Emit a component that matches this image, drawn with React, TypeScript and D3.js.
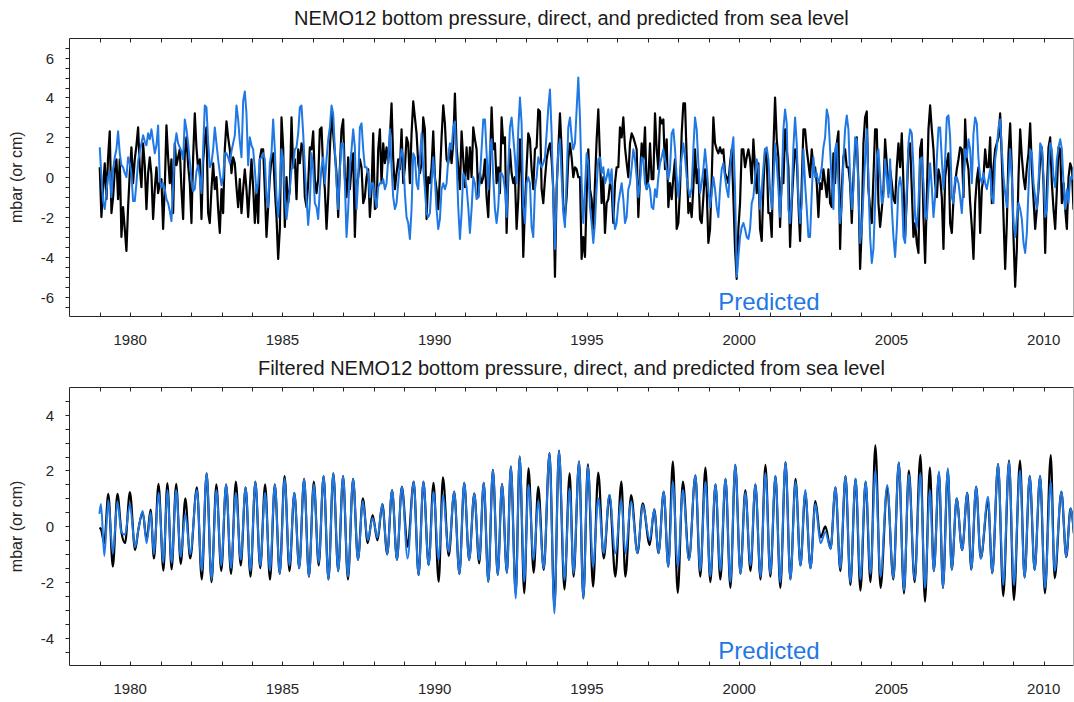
import React from "react";
import * as d3 from "d3";

// ---------- data ----------
// Unfiltered series: one value every 20 days starting at 1979.0 (mbar)
const SERIES_START = 1979.0;
const SERIES_STEP_DAYS = 20;

const directTop: number[] = [
  0.5,-2.0,-0.5,0.7,-1.1,1.0,2.3,-1.8,-1.0,0.3,
  0.9,-1.1,0.9,-3.0,-1.5,-2.6,-3.7,-1.5,0.2,1.5,
  -0.3,0.9,1.6,2.5,0.5,-0.5,1.7,0.6,-1.6,0.2,
  1.0,0.1,-2.1,-0.6,0.5,-0.8,-0.3,-0.1,-2.6,-0.5,
  2.6,1.0,-0.3,0.9,-1.8,1.7,0.6,1.0,1.4,-0.6,
  -2.1,1.2,2.0,0.6,-0.3,-2.3,1.0,3.2,1.5,0.4,
  0.9,-2.1,0.8,1.9,2.5,-1.8,-2.3,-0.6,0.7,-0.6,
  0.0,-1.6,-2.8,-0.6,-1.8,1.4,2.8,2.0,1.4,0.2,
  1.0,0.7,-0.5,-1.5,-0.1,-1.8,-0.6,0.4,-0.6,-2.0,
  -0.5,0.9,-0.5,-2.3,-0.6,
  -2.3,0.9,1.4,1.4,-0.6,-3.0,-1.5,0.0,0.9,1.2,
  -0.6,-2.0,-4.1,-2.6,3.0,1.5,-2.5,0.0,-1.3,-0.6,
  3.0,0.5,0.9,-1.1,1.4,0.7,1.7,1.4,-1.0,-1.5,
  -0.3,1.5,1.4,2.3,-0.1,-0.8,-0.1,2.4,2.5,0.4,
  -0.6,-2.6,-1.0,1.4,3.2,2.2,1.2,0.2,-2.0,0.5,
  2.4,2.9,0.0,-1.0,1.0,-0.6,0.5,1.2,-3.0,-0.3,
  0.0,0.9,0.5,-1.3,-1.0,0.0,0.4,-2.0,-0.6,2.2,
  -1.6,-1.5,1.4,2.4,-0.3,1.7,0.7,1.5,0.7,2.0,
  3.7,0.9,-0.6,0.2,0.9,0.4,2.4,-0.3,0.5,2.0,
  1.7,-0.3,2.2,3.8,3.0,2.2,0.7,0.2,
  0.7,3.0,2.4,-2.1,0.0,-0.3,0.5,2.3,0.0,-0.6,
  -1.6,0.0,2.0,3.6,2.7,0.9,0.7,1.5,0.7,1.7,
  4.2,1.5,0.5,-0.6,2.3,0.9,-0.5,1.5,-0.1,1.5,
  0.0,2.5,1.9,1.4,-1.0,0.2,-0.3,0.0,0.9,-1.0,
  -2.0,0.5,3.5,1.4,1.7,-0.3,0.5,-0.8,3.0,1.7,
  2.0,-2.8,0.0,1.4,0.2,-0.3,0.0,-2.6,-1.1,1.9,
  0.0,-4.0,-1.5,0.5,2.2,1.9,0.4,-0.6,1.4,1.5,
  3.4,3.3,-0.6,-1.3,-0.1,0.9,1.4,1.7,0.9,-0.6,
  -5.0,-0.6,1.4,3.2,1.4,-1.5,-2.0,-1.0,0.9,1.7,
  1.0,0.0,0.5,0.4,0.0,0.0,-4.1,-3.0,
  -4.0,-1.0,1.4,-0.6,-1.1,-2.6,-0.3,1.9,3.4,1.0,
  -1.3,0.0,-2.8,-1.3,-1.1,-0.3,-0.6,-2.3,-0.3,0.5,
  0.5,2.5,2.0,3.0,1.5,0.7,0.0,1.7,2.2,2.0,
  1.7,1.4,-2.0,0.0,1.7,0.9,2.5,-0.6,-0.1,1.7,
  -0.1,-0.1,3.2,1.4,0.4,3.0,2.7,2.9,0.4,1.9,
  -1.5,-0.3,-1.1,0.0,0.9,-2.6,-2.3,-0.6,2.2,3.7,
  3.7,1.0,-1.8,-1.3,-2.0,-0.5,1.4,-0.3,0.4,-2.1,
  -2.3,-1.0,0.4,-0.6,-3.3,-2.6,-0.1,3.0,1.7,1.4,
  1.2,1.5,1.2,1.4,0.2,0.0,-0.3,0.7,1.4,-1.0,
  -3.6,-5.1,-2.6,-1.3,1.4,1.4,0.5,1.0,
  1.4,0.9,-0.3,1.9,0.5,-0.8,0.7,-2.6,-3.2,-0.5,
  1.4,1.0,-1.8,-1.8,-3.0,1.4,4.0,1.9,1.0,-2.5,
  0.0,-0.3,2.4,1.4,0.5,-3.5,-1.3,0.2,1.4,1.0,
  -1.3,-3.2,-0.3,2.4,2.4,1.4,0.7,0.0,1.4,0.5,
  0.5,-0.3,-2.0,-0.3,-0.6,0.4,-0.3,-1.0,0.4,-1.3,
  -1.5,1.2,-0.3,1.7,2.3,-3.6,-0.6,1.0,1.4,0.5,
  0.5,-0.3,-2.3,0.0,1.4,2.0,-0.3,-4.6,-2.5,1.7,
  3.0,3.3,-0.6,-1.6,-2.3,0.0,2.4,2.4,-1.3,-2.5,
  -1.6,-0.6,1.9,0.7,-0.8,0.4,-0.3,-1.1,-1.3,0.5,
  1.7,0.5,2.2,-0.3,-3.0,-1.0,1.4,1.7,
  -0.6,-3.0,-2.3,-3.3,-3.8,1.4,1.9,-2.0,-4.3,-1.1,
  2.4,3.6,2.4,1.4,-0.3,-1.0,0.4,0.0,-1.0,-3.6,
  0.0,0.7,1.2,-2.3,-2.8,-1.1,-0.3,0.4,0.9,1.5,
  1.4,-1.0,2.9,0.9,0.4,-1.3,-2.5,-4.1,-1.3,-0.1,
  0.5,-2.8,-0.6,0.0,1.4,0.5,0.5,2.0,-1.3,0.5,
  1.4,1.7,2.0,3.2,0.9,-2.0,-4.6,-2.3,1.2,2.7,
  0.4,-3.0,-5.5,-3.6,0.0,2.4,1.0,0.0,-0.6,0.5,
  1.2,2.7,0.5,-1.1,-2.6,-1.6,-0.6,0.9,1.5,-0.3,
  -3.8,-0.6,1.5,2.0,-0.3,-1.6,-2.6,-0.6,1.5,1.4,
  -1.3,-0.3,-1.6,-2.6,0.0,0.7,0.4,-1.6,-1.5,
];

const predictedTop: number[] = [
  1.5,0.0,-1.2,-1.6,-0.7,0.0,0.3,-1.0,0.4,1.0,
  1.4,2.3,1.2,0.6,0.5,0.2,0.0,1.0,0.7,0.2,
  -1.2,-1.2,-0.3,0.8,1.3,1.7,2.1,1.8,1.6,2.2,
  1.9,2.4,1.8,1.2,1.6,2.6,-0.1,-0.5,-0.3,-0.6,
  -1.1,-1.3,-1.7,-2.2,-0.5,1.6,2.2,1.7,1.5,1.3,
  0.9,2.9,2.4,1.7,0.8,-0.1,-0.7,-0.6,0.3,0.6,
  0.0,-0.8,1.4,3.6,3.5,1.8,0.5,0.7,1.4,2.5,
  1.7,0.9,0.2,-0.4,0.0,1.2,1.2,1.0,0.7,1.3,
  1.7,2.1,3.6,2.9,1.8,1.0,3.8,4.3,3.2,0.6,
  2.0,1.6,1.4,0.4,-0.8,
  -0.3,0.9,1.0,1.2,0.9,-1.0,-1.5,0.7,1.2,2.9,
  1.4,-1.0,-2.0,-0.6,1.4,0.9,-1.0,-2.1,-1.3,-0.6,
  0.4,0.5,1.4,1.5,2.2,3.5,3.6,2.2,0.5,-1.1,
  -2.4,-1.3,1.2,0.4,-1.3,-1.5,-2.1,-0.6,0.5,1.0,
  -0.3,0.9,1.9,2.5,3.6,3.2,1.4,-0.3,-1.6,0.4,
  1.7,1.7,-0.3,-3.0,-1.6,0.4,1.4,2.4,1.5,-1.6,
  -0.1,2.5,2.7,1.4,0.5,0.5,0.2,-1.0,-0.3,-0.3,
  -1.0,-1.5,-0.5,-0.3,-0.3,-0.1,-0.6,-0.3,0.9,2.4,
  0.5,-1.0,-1.6,-1.3,-0.3,0.7,1.4,1.0,-0.8,-2.0,
  -2.3,-3.1,-1.6,1.2,1.0,-0.3,-0.6,0.9,
  2.2,0.5,-0.6,-1.8,-2.0,-1.8,-0.3,1.0,-0.1,-1.6,
  -2.6,-2.1,-0.6,-0.3,-0.6,-0.3,0.9,1.7,1.4,2.5,
  2.8,0.9,-1.5,-3.1,-1.8,0.2,0.0,-0.5,-1.5,-2.8,
  -1.6,0.0,-0.3,-1.1,-1.0,0.0,1.4,2.9,2.9,1.2,
  -0.6,1.4,1.9,0.0,-1.6,-2.3,-1.5,0.2,0.2,0.0,
  -0.6,-2.0,0.5,2.5,3.0,2.0,1.0,-0.3,2.4,4.0,
  2.7,-1.5,-2.3,-0.3,0.0,-0.3,-2.5,-3.0,-0.6,0.0,
  1.0,0.7,0.5,0.7,1.0,2.2,3.5,4.4,2.2,-1.1,
  -3.6,-0.6,1.4,1.9,0.0,-1.8,-2.5,0.0,2.5,3.0,
  2.0,1.4,1.7,3.4,5.0,3.0,-0.3,-2.3,
  -0.6,1.2,0.7,-1.5,-2.3,-3.3,-2.3,-0.5,0.9,1.0,
  0.2,0.5,-0.3,0.0,0.4,-0.3,0.4,-1.5,-2.6,-2.3,
  -1.3,-0.8,-0.3,-1.1,-2.3,-2.0,-0.6,-0.3,0.5,1.4,
  0.9,0.0,-1.0,-0.3,1.0,0.9,-0.3,-0.6,-0.3,-0.6,
  -1.5,-1.6,-0.6,-1.0,0.0,0.7,1.0,1.4,0.9,0.4,
  -0.1,0.4,2.2,2.4,1.4,0.0,-1.0,0.2,1.0,1.7,
  1.0,0.0,-0.6,-1.0,-0.5,1.4,3.0,2.4,0.7,-0.8,
  -0.3,0.4,1.4,0.5,-0.6,-1.5,-0.8,0.0,-0.6,-1.5,
  -2.0,-0.6,0.4,0.7,0.0,-0.6,-1.0,0.4,1.4,2.0,
  -0.6,-5.0,-4.0,-3.0,-2.5,-2.3,-2.6,-3.0,
  -3.1,-2.6,-1.3,-1.0,0.0,0.9,0.4,-1.6,-0.6,0.5,
  1.4,1.5,0.9,-0.6,-1.6,-0.3,1.7,0.7,-0.6,-2.0,
  -0.3,2.4,3.4,2.7,-1.6,-2.3,-1.0,1.5,3.0,1.7,
  -1.1,-2.3,-1.3,1.4,-0.3,-1.6,-3.0,-3.0,-0.8,1.0,
  0.0,0.2,-0.3,0.0,0.5,1.5,2.0,3.4,3.0,1.4,
  -0.3,-1.6,1.4,1.7,-0.3,-2.3,-1.5,0.9,2.4,3.1,
  2.4,0.0,-1.6,-0.6,2.0,1.9,-0.6,-3.3,-2.6,-0.8,
  0.9,2.4,-0.1,-3.0,-4.3,-3.6,-1.3,1.0,1.4,0.0,
  -1.3,-1.0,0.9,0.0,-1.0,0.9,-1.5,-3.0,-4.0,-2.6,
  -0.5,0.0,-0.6,-3.0,-3.3,-0.6,1.7,2.4,
  2.2,0.5,-2.0,-2.5,-1.3,0.9,1.0,-0.3,-1.8,-2.1,
  -0.6,0.7,-0.5,-2.0,-1.0,0.9,2.5,2.5,0.9,-0.6,
  0.9,3.0,3.1,2.0,-1.0,-1.3,0.0,0.0,-0.3,-1.0,
  -1.8,-0.3,1.4,1.0,1.9,1.4,-0.3,2.2,3.0,2.7,
  0.9,0.0,-0.3,0.2,-0.3,-0.6,-0.1,0.4,-1.0,-1.3,
  0.9,1.5,2.5,2.9,1.4,0.0,-0.8,-1.5,0.0,1.4,
  0.0,-2.3,-3.0,-2.0,-1.3,-1.6,-2.1,-3.3,-3.8,-2.8,
  -0.6,1.4,1.2,-0.3,-1.0,-1.6,-0.3,1.7,1.5,0.0,
  -2.0,-1.6,0.4,1.7,1.4,0.0,-0.5,0.9,1.5,1.9,
  1.4,-0.3,-1.6,-0.6,-1.3,0.0,-0.1,0.5,-0.3,
];

// Filtered series: successive turning points (year) with values (mbar)
const filtYears: number[] = [
  1978.99,1979.04,1979.15,1979.28,1979.43,1979.58,1979.71,1979.83,1979.99,1980.16,
  1980.27,1980.41,1980.54,1980.67,1980.78,1980.93,1981.09,1981.22,1981.36,1981.51,
  1981.66,1981.81,1981.97,1982.19,
  1982.35,1982.51,1982.67,1982.83,1982.99,1983.15,1983.31,1983.47,1983.63,1983.79,
  1983.95,1984.11,1984.27,1984.43,1984.59,1984.75,1984.91,1985.07,1985.23,1985.39,
  1985.55,1985.71,1985.87,1986.03,1986.19,1986.35,1986.51,1986.67,1986.83,1986.99,
  1987.15,1987.32,1987.48,1987.64,1987.80,1987.96,1988.12,1988.28,1988.44,1988.60,
  1988.76,
  1988.92,1989.11,1989.31,1989.47,1989.63,1989.80,1989.96,1990.13,1990.27,1990.46,
  1990.64,1990.81,1990.97,1991.13,1991.30,1991.46,1991.61,1991.76,1991.91,1992.07,
  1992.21,1992.37,1992.50,1992.66,1992.79,1992.94,1993.08,1993.25,1993.40,1993.58,
  1993.77,1993.93,1994.08,1994.26,1994.43,1994.56,1994.74,1994.88,1995.03,1995.20,
  1995.37,1995.55,1995.74,1995.93,1996.13,1996.26,1996.45,1996.66,1996.83,1997.06,
  1997.21,1997.35,1997.52,1997.67,1997.82,1997.98,1998.15,1998.35,1998.56,
  1998.72,1998.89,1999.05,1999.22,1999.38,1999.55,1999.71,1999.87,2000.04,2000.20,
  2000.37,2000.53,2000.70,2000.86,2001.02,2001.19,2001.35,2001.52,2001.68,2001.85,
  2002.01,2002.17,2002.34,2002.50,2002.67,2002.83,2003.00,2003.16,2003.32,2003.49,
  2003.65,2003.82,2003.98,2004.15,2004.31,2004.47,
  2004.64,2004.86,2005.06,2005.24,2005.41,2005.57,2005.76,2005.95,2006.10,2006.26,
  2006.39,2006.56,2006.69,2006.85,2006.98,2007.14,2007.32,2007.49,2007.62,2007.78,
  2007.93,2008.17,2008.31,2008.50,2008.67,2008.86,2009.02,2009.22,2009.37,2009.54,
  2009.70,2009.88,2010.04,2010.23,2010.36,2010.58,2010.74,2010.88,2010.99,
];
const filtPredicted: number[] = [
  0.45,0.8,-1.06,0.94,-0.97,0.9,-0.2,-0.3,0.8,-0.75,
  -0.1,0.55,-0.6,0.5,-1.0,1.2,-1.3,1.3,-1.3,1.3,
  -1.1,0.45,-1.0,1.3,
  -1.6,1.9,-1.9,1.3,-1.4,1.5,-1.5,1.2,-1.2,1.4,
  -1.6,1.6,-1.4,1.2,-1.6,1.5,-1.7,1.7,-1.4,1.2,
  -1.5,1.7,-1.8,1.5,-1.3,1.8,-1.9,1.9,-1.6,1.8,
  -1.8,1.7,-1.2,0.9,-0.5,0.3,-0.4,0.8,-1.0,1.3,
  -1.2,
  1.42,-1.15,1.6,-1.74,1.6,-1.39,1.24,-1.21,1.12,-0.91,
  1.24,-1.71,1.56,-1.21,1.18,-1.21,1.56,-1.98,2.02,-1.74,
  1.52,-1.66,2.14,-2.58,2.5,-1.98,1.48,-1.21,0.93,-1.5,
  2.62,-3.12,2.71,-1.92,1.36,-1.68,2.32,-2.58,2.14,-1.44,
  1.0,-0.96,1.12,-0.96,0.95,-0.96,0.88,-0.96,0.76,-0.49,
  0.61,-0.96,1.24,-1.44,1.6,-1.44,1.3,-1.2,1.83,
  -1.6,1.6,-1.8,1.5,-1.6,1.7,-2.0,2.2,-1.7,1.2,
  -1.4,1.5,-1.8,1.9,-1.7,1.8,-2.0,2.3,-1.9,1.6,
  -1.4,1.3,-1.5,0.8,-0.6,-0.2,-0.8,1.4,-1.5,1.8,
  -2.0,1.7,-1.9,1.6,-1.7,2.0,
  -1.8,1.48,-1.86,2.28,-2.3,1.85,-1.9,1.9,-2.2,1.3,
  -1.6,1.96,-2.2,2.08,-1.55,1.0,-0.85,1.2,-1.55,1.42,
  -1.15,1.06,-1.68,2.23,-2.1,2.3,-2.1,2.0,-1.83,1.8,
  -1.56,1.8,-2.2,1.6,-1.6,1.24,-1.1,0.64,-0.25,
];
const filtDirect: number[] = [
  -0.05,-0.1,-0.6,1.16,-1.44,1.16,-0.2,-0.6,1.23,-0.85,
  -0.1,0.5,-0.5,0.6,-1.15,1.52,-1.59,1.55,-1.54,1.52,
  -1.35,1.0,-1.15,1.4,
  -1.9,1.9,-2.0,1.5,-1.6,1.5,-1.7,1.6,-1.4,1.4,
  -1.8,1.6,-1.5,1.5,-1.9,1.5,-1.7,1.8,-1.6,1.2,
  -1.5,1.7,-1.8,1.6,-1.4,1.8,-1.9,1.9,-1.6,1.8,
  -1.9,1.7,-1.2,1.0,-0.6,0.4,-0.5,0.8,-1.0,1.3,
  -1.2,
  1.42,-0.73,1.6,-1.74,1.6,-1.39,1.56,-1.98,1.75,-1.06,
  1.24,-1.71,1.56,-1.21,1.18,-1.33,1.56,-1.98,2.02,-1.74,
  1.52,-1.66,2.14,-2.4,2.5,-2.4,2.08,-1.66,1.42,-1.56,
  2.62,-2.88,2.71,-2.26,1.9,-1.8,2.32,-2.58,2.22,-2.16,
  1.92,-1.15,1.12,-1.8,1.6,-1.8,1.12,-0.96,0.82,-0.67,
  0.61,-0.96,1.24,-1.44,2.32,-2.38,1.6,-1.2,1.83,
  -1.8,2.1,-2.0,1.5,-1.9,1.7,-2.2,2.2,-1.7,1.3,
  -1.6,1.5,-1.9,2.2,-1.8,1.8,-2.2,2.3,-1.9,1.7,
  -1.4,1.2,-1.5,0.9,-0.4,0.0,-0.8,1.4,-1.6,1.8,
  -2.1,1.7,-2.3,1.6,-2.0,2.9,
  -2.2,1.4,-1.9,2.28,-2.4,2.0,-2.0,2.55,-2.7,2.1,
  -1.6,1.9,-2.2,2.0,-1.55,1.0,-0.85,1.2,-1.55,1.42,
  -1.15,0.9,-1.68,2.23,-2.5,2.35,-2.64,2.35,-1.83,1.8,
  -1.56,1.8,-2.4,2.55,-1.86,1.24,-1.1,0.64,-0.25,
];

const xTickYears = d3.range(1979, 2011);
const xLabelYears = [1980, 1985, 1990, 1995, 2000, 2005, 2010];
const topYLabels = [-6, -4, -2, 0, 2, 4, 6];
const bottomYLabels = [-4, -2, 0, 2, 4];

const TITLE_TOP = "NEMO12 bottom pressure, direct, and predicted from sea level";
const TITLE_BOTTOM = "Filtered NEMO12 bottom pressure, direct, and predicted from sea level";
const Y_LABEL = "mbar (or cm)";
const PRED_LABEL = "Predicted";

// ---------- styling ----------
const W = 1074;
const H = 702;
const BLUE = "#1f78e4";
const AXIS = "#262626";
const FONT = "'Liberation Sans', Arial, Helvetica, sans-serif";
const PLOT_L = 69.3;
const PLOT_R = 1073.5;

const x = d3.scaleLinear().domain([1978, 2011]).range([69.3, 1074.2]);

type Pt = [number, number];

function toSeries(vals: number[]): Pt[] {
  const step = SERIES_STEP_DAYS / 365.25;
  return vals.map((v, i) => [SERIES_START + i * step, v] as Pt);
}

function pairUp(ts: number[], vs: number[]): Pt[] {
  const n = Math.min(ts.length, vs.length);
  return d3.range(n).map((i) => [ts[i], vs[i]] as Pt);
}

interface PanelProps {
  id: string;
  top: number;
  bottom: number;
  domain: [number, number];
  labels: number[];
  title: string;
  titleY: number;
  direct: Pt[];
  predicted: Pt[];
  curve: d3.CurveFactory;
}

function Panel(p: PanelProps) {
  const y = d3.scaleLinear().domain(p.domain).range([p.bottom, p.top]);
  const line = d3
    .line<Pt>()
    .x((d) => x(d[0]))
    .y((d) => y(d[1]))
    .curve(p.curve);
  const yTicks = d3.range(p.domain[0] + 0.5, p.domain[1] - 0.01, 0.5);
  const midY = (p.top + p.bottom) / 2;
  const L = Math.round(PLOT_L) + 0.5;
  const R = Math.round(PLOT_R) - 0.5;
  const T = Math.round(p.top) + 0.5;
  const B = Math.round(p.bottom) - 0.5;
  return (
    <g>
      <defs>
        <clipPath id={p.id}>
          <rect x={L} y={T} width={R - L} height={B - T} />
        </clipPath>
      </defs>
      <text
        x={(PLOT_L + PLOT_R) / 2}
        y={p.titleY}
        textAnchor="middle"
        fontSize={20}
        fontFamily={FONT}
        fill="#1a1a1a"
      >
        {p.title}
      </text>
      <g clipPath={`url(#${p.id})`}>
        <path d={line(p.direct) || ""} fill="none" stroke="#000" strokeWidth={2.2} strokeLinejoin="round" />
        <path d={line(p.predicted) || ""} fill="none" stroke={BLUE} strokeWidth={2} strokeLinejoin="round" />
      </g>
      <line x1={L} x2={R} y1={T} y2={T} stroke={AXIS} strokeWidth={1} />
      <line x1={L} x2={R} y1={B} y2={B} stroke={AXIS} strokeWidth={1} />
      <line x1={L} x2={L} y1={T} y2={B} stroke={AXIS} strokeWidth={1} />
      <line x1={R} x2={R} y1={T} y2={B} stroke="#b0b0b0" strokeWidth={1} />
      {xTickYears.map((yr) => {
        const xx = Math.round(x(yr)) + 0.5;
        return (
          <g key={yr}>
            <line x1={xx} x2={xx} y1={B} y2={B - 4} stroke={AXIS} strokeWidth={1} />
            <line x1={xx} x2={xx} y1={T} y2={T + 4} stroke={AXIS} strokeWidth={1} />
          </g>
        );
      })}
      {xLabelYears.map((yr) => (
        <text
          key={yr}
          x={x(yr)}
          y={p.bottom + 28}
          textAnchor="middle"
          fontSize={15}
          fontFamily={FONT}
          fill={AXIS}
        >
          {yr}
        </text>
      ))}
      {yTicks.map((v) => {
        const yy = Math.round(y(v)) + 0.5;
        return <line key={v} x1={L - 4} x2={L} y1={yy} y2={yy} stroke={AXIS} strokeWidth={1} />;
      })}
      {p.labels.map((v) => (
        <text
          key={v}
          x={54}
          y={y(v) + 6}
          textAnchor="end"
          fontSize={15}
          fontFamily={FONT}
          fill={AXIS}
        >
          {v}
        </text>
      ))}
      <text
        transform={`translate(22,${midY}) rotate(-90)`}
        textAnchor="middle"
        fontSize={16}
        fontFamily={FONT}
        fill={AXIS}
      >
        {Y_LABEL}
      </text>
      <text
        x={769}
        y={p.bottom - 7}
        textAnchor="middle"
        fontSize={24}
        fontFamily={FONT}
        fill={BLUE}
      >
        {PRED_LABEL}
      </text>
    </g>
  );
}

export default function App() {
  const topDirect = toSeries(directTop);
  const topPred = toSeries(predictedTop);
  const fDirect = pairUp(filtYears, filtDirect);
  const fPred = pairUp(filtYears, filtPredicted);
  return (
    <div style={{ position: "absolute", left: 0, top: 0, width: W, height: H, background: "#fff" }}>
      <svg width={W} height={H} viewBox={`0 0 ${W} ${H}`} style={{ display: "block" }}>
        <rect x={0} y={0} width={W} height={H} fill="#fff" />
        <Panel
          id="clipTop"
          top={37.7}
          bottom={316.7}
          domain={[-7, 7]}
          labels={topYLabels}
          title={TITLE_TOP}
          titleY={25}
          direct={topDirect}
          predicted={topPred}
          curve={d3.curveLinear}
        />
        <Panel
          id="clipBottom"
          top={386.7}
          bottom={666}
          domain={[-5, 5]}
          labels={bottomYLabels}
          title={TITLE_BOTTOM}
          titleY={375}
          direct={fDirect}
          predicted={fPred}
          curve={d3.curveMonotoneX}
        />
      </svg>
    </div>
  );
}
